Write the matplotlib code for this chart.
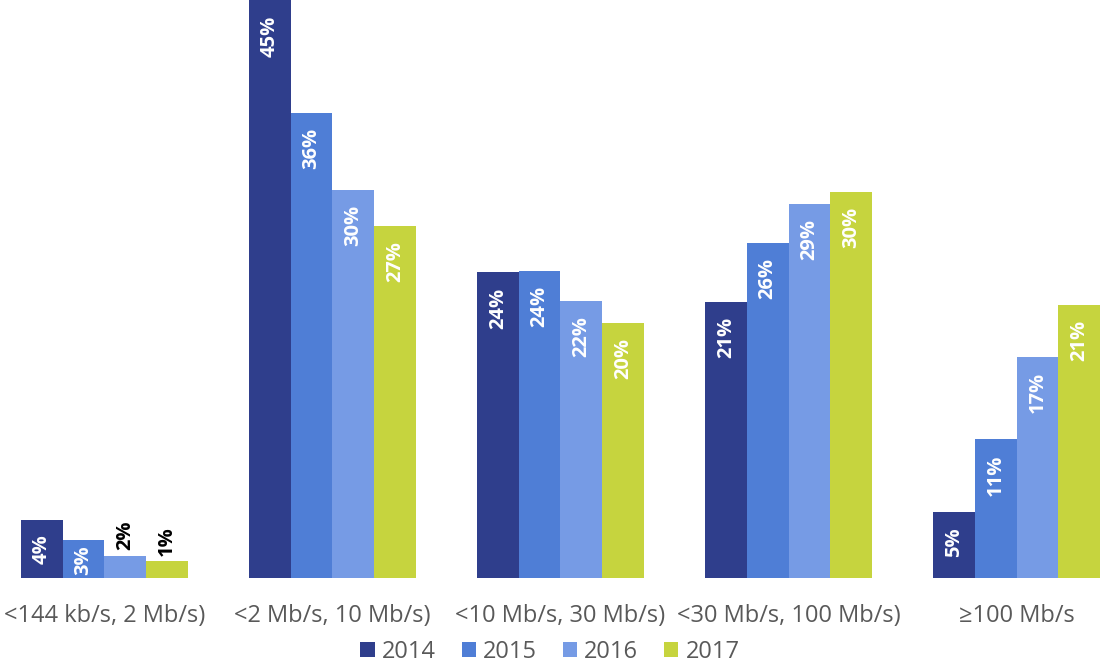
import matplotlib
matplotlib.use("Agg")
import matplotlib.pyplot as plt
from matplotlib.patches import Patch
import numpy as np

categories = ["<144 kb/s, 2 Mb/s)", "<2 Mb/s, 10 Mb/s)", "<10 Mb/s, 30 Mb/s)",
              "<30 Mb/s, 100 Mb/s)", "\u2265100 Mb/s"]
years = ["2014", "2015", "2016", "2017"]
v2014 = [4.5, 44.6, 23.6, 21.3, 5.1]
v2015 = [2.9, 35.9, 23.7, 25.9, 10.7]
v2016 = [1.7, 30.0, 21.4, 28.9, 17.1]
v2017 = [1.3, 27.2, 19.7, 29.8, 21.1]
l2014 = ["4%", "45%", "24%", "21%", "5%"]
l2015 = ["3%", "36%", "24%", "26%", "11%"]
l2016 = ["2%", "30%", "22%", "29%", "17%"]
l2017 = ["1%", "27%", "20%", "30%", "21%"]

series = [v2014, v2015, v2016, v2017]
labels = [l2014, l2015, l2016, l2017]
colors = ["#2F3E8C", "#4F7ED6", "#769BE5", "#C6D43E"]

plt.rcParams['font.family'] = ['Open Sans', 'DejaVu Sans']

DPI = 100
fig = plt.figure(figsize=(11, 6.63), dpi=DPI)
ax_h_px = 578
ax = fig.add_axes([0, 1 - ax_h_px/663, 1, ax_h_px/663])
ymax = ax_h_px / 12.95
ax.set_xlim(-0.458, 4.366)
ax.set_ylim(0, ymax)
px_per_unit = ax_h_px / ymax

x = np.arange(len(categories))
w = 0.183
fs = 14.5
for i, (vals, labs, c) in enumerate(zip(series, labels, colors)):
    xs = x + (i - 1.5) * w
    ax.bar(xs, vals, width=w, color=c, edgecolor='none', label=years[i])
    for xi, v, lab in zip(xs, vals, labs):
        bar_px = v * px_per_unit
        if v < 2.5:
            ax.annotate(lab, (xi, v), xytext=(0, 4), textcoords='offset points',
                        rotation=90, ha='center', va='bottom', color='black',
                        fontsize=fs, fontweight='bold', annotation_clip=False)
        else:
            text_px = 15 * len(lab)
            off_px = min(15, bar_px - text_px - 3)
            off_pt = off_px * 72 / DPI
            ax.annotate(lab, (xi, v), xytext=(0, -off_pt), textcoords='offset points',
                        rotation=90, ha='center', va='top', color='white',
                        fontsize=fs, fontweight='bold', annotation_clip=False)

ax.set_xticks(x)
ax.set_xticklabels(categories, fontsize=17, color='#595959')
ax.tick_params(axis='x', length=0, pad=19)
ax.set_yticks([])
for s in ax.spines.values():
    s.set_visible(False)

handles = [Patch(facecolor=c, label=y) for c, y in zip(colors, years)]
fig.legend(handles=handles, loc='center', bbox_to_anchor=(0.5, 1 - 652/663),
           ncol=4, frameon=False, fontsize=17, labelcolor='#595959',
           handlelength=0.6, handleheight=0.6, handletextpad=0.3, columnspacing=1.1,
           borderpad=0.1)

fig.savefig("out.png", dpi=DPI)
